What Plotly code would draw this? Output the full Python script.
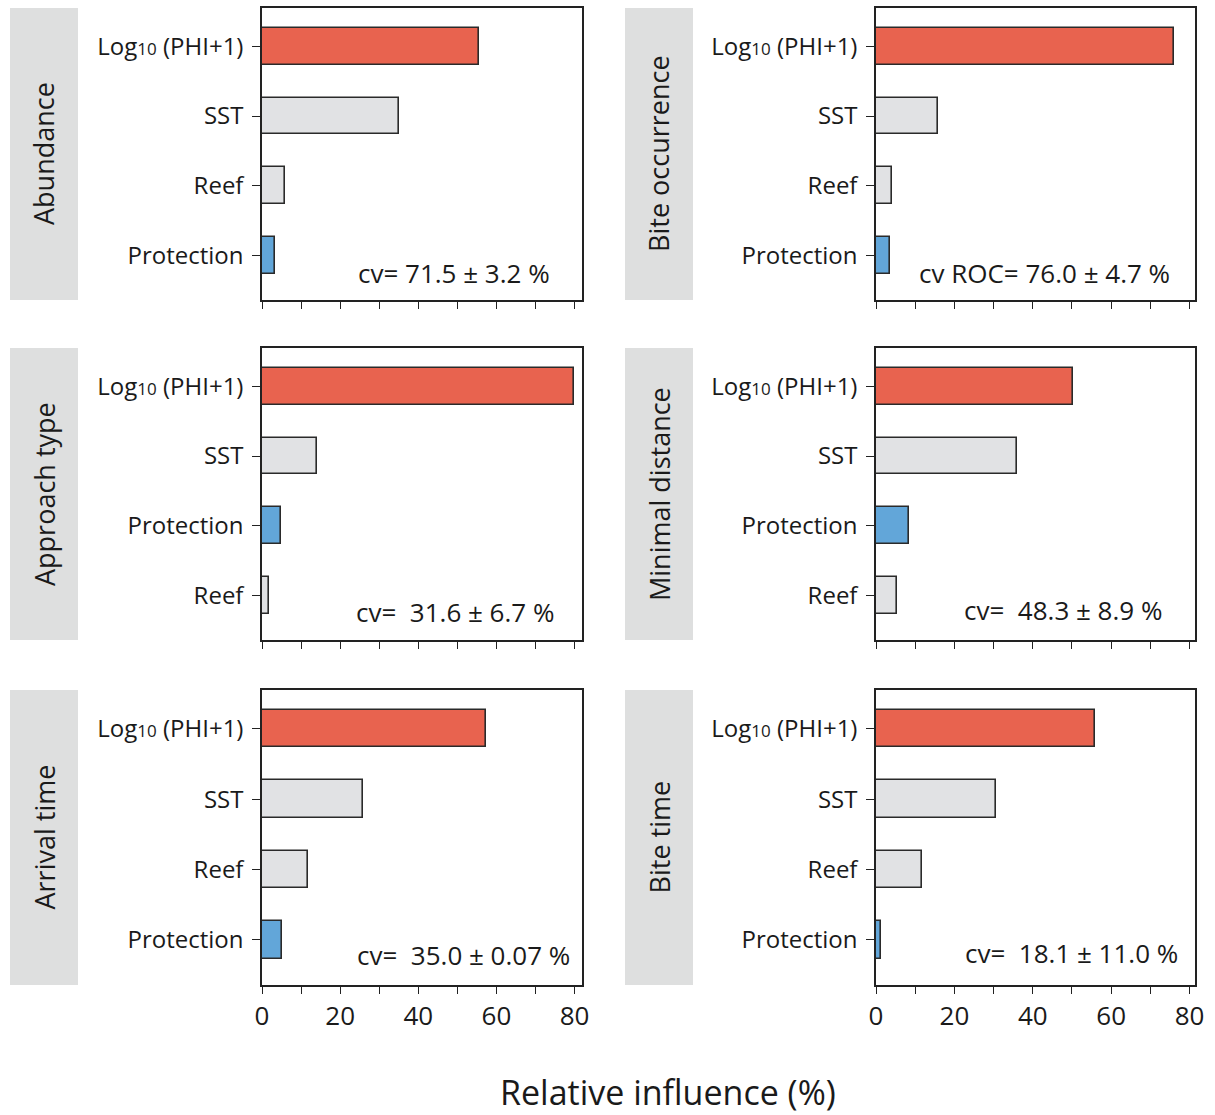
import plotly.graph_objects as go

# ---------------- data ----------------
panel_titles = ["Abundance", "Bite occurrence", "Approach type",
                "Minimal distance", "Arrival time", "Bite time"]

cats_abundance = ["Log10 (PHI+1)", "SST", "Reef", "Protection"]
vals_abundance = [55.5, 35.1, 5.9, 3.3]

cats_bite_occ = ["Log10 (PHI+1)", "SST", "Reef", "Protection"]
vals_bite_occ = [76.0, 15.8, 4.2, 3.5]

cats_approach = ["Log10 (PHI+1)", "SST", "Protection", "Reef"]
vals_approach = [79.8, 14.2, 4.8, 1.7]

cats_min_dist = ["Log10 (PHI+1)", "SST", "Protection", "Reef"]
vals_min_dist = [50.2, 35.9, 8.4, 5.4]

cats_arrival = ["Log10 (PHI+1)", "SST", "Reef", "Protection"]
vals_arrival = [57.3, 25.8, 11.7, 5.1]

cats_bite_time = ["Log10 (PHI+1)", "SST", "Reef", "Protection"]
vals_bite_time = [55.8, 30.6, 11.8, 1.4]

cv_texts = ["cv= 71.5 ± 3.2 %", "cv ROC= 76.0 ± 4.7 %",
            "cv=\u00a0 31.6 ± 6.7 %", "cv=\u00a0 48.3 ± 8.9 %",
            "cv=\u00a0 35.0 ± 0.07 %", "cv=\u00a0 18.1 ± 11.0 %"]

x_tickvals = [0, 10, 20, 30, 40, 50, 60, 70, 80]
x_ticktext = ["0", "", "20", "", "40", "", "60", "", "80"]

x_title = "Relative influence (%)"

# ---------------- styling ----------------
W, H = 1215, 1115
FONT = "Open Sans"
INK = "#1a1a1a"
COL = {"Log10 (PHI+1)": "#E8634F", "SST": "#E1E2E4",
       "Reef": "#E1E2E4", "Protection": "#62A6D9"}

def px_x(x):
    return x / W

def px_y(y):
    return 1 - y / H

col_x = [(262, 582), (876, 1195)]
row_y = [(8, 300), (348, 640), (690, 985)]
strip_x = [(10, 78), (625, 693)]
x_max = [81.9, 81.4]
cv_right = [552, 1172, 556, 1164, 572, 1180]
cv_y = [273, 273, 612, 610, 955, 953]

panels = [(cats_abundance, vals_abundance), (cats_bite_occ, vals_bite_occ),
          (cats_approach, vals_approach), (cats_min_dist, vals_min_dist),
          (cats_arrival, vals_arrival), (cats_bite_time, vals_bite_time)]

def label_html(c):
    if c.startswith("Log10"):
        return "Log<span style='font-size:17px'>10</span> (PHI+1)"
    return c

fig = go.Figure()
shapes = []
annotations = []

for i, (cats, vals) in enumerate(panels):
    r, c = divmod(i, 2)
    n = i + 1
    xa = "x" if n == 1 else f"x{n}"
    ya = "y" if n == 1 else f"y{n}"
    fig.add_trace(go.Bar(
        x=vals, y=list(range(len(cats))), orientation="h",
        marker=dict(color=[COL[k] for k in cats],
                    line=dict(color="#2a2a2a", width=1.6)),
        width=0.53, xaxis=xa, yaxis=ya, showlegend=False,
        hoverinfo="x"))
    xkey = "xaxis" if n == 1 else f"xaxis{n}"
    ykey = "yaxis" if n == 1 else f"yaxis{n}"
    x0, x1 = col_x[c]
    y0, y1 = row_y[r]
    fig.layout[xkey] = dict(
        domain=[px_x(x0), px_x(x1)], anchor=ya, range=[0, x_max[c]],
        showline=True, linecolor="#222", linewidth=1.5, mirror=True,
        ticks="outside", ticklen=7, tickwidth=1.3, tickcolor="#222",
        tickvals=x_tickvals, ticktext=x_ticktext, automargin=False,
        showticklabels=(r == 2), showgrid=False, zeroline=False,
        tickfont=dict(family=FONT, size=26, color=INK),
        fixedrange=True)
    fig.layout[ykey] = dict(
        domain=[px_y(y1), px_y(y0)], anchor=xa, range=[3.64, -0.55],
        showline=True, linecolor="#222", linewidth=1.5, mirror=True,
        ticks="outside", ticklen=8, tickwidth=1.3, tickcolor="#222",
        tickvals=list(range(len(cats))), ticktext=[label_html(k) for k in cats],
        showgrid=False, zeroline=False, ticklabelstandoff=4, automargin=False,
        tickfont=dict(family=FONT, size=24, color=INK),
        fixedrange=True)
    # gray strip
    sx0, sx1 = strip_x[c]
    shapes.append(dict(type="rect", xref="paper", yref="paper",
                       x0=px_x(sx0), x1=px_x(sx1), y0=px_y(y1), y1=px_y(y0),
                       fillcolor="#DEDFDF", line=dict(width=0), layer="below"))
    annotations.append(dict(
        text=panel_titles[i], xref="paper", yref="paper",
        x=px_x((sx0 + sx1) / 2), y=px_y((y0 + y1) / 2),
        showarrow=False, textangle=-90, xanchor="center", yanchor="middle",
        font=dict(family=FONT, size=27, color=INK)))
    annotations.append(dict(
        text=cv_texts[i], xref="paper", yref="paper",
        x=px_x(cv_right[i]), y=px_y(cv_y[i]),
        showarrow=False, xanchor="right", yanchor="middle",
        font=dict(family=FONT, size=26, color=INK)))

annotations.append(dict(
    text=x_title, xref="paper", yref="paper",
    x=px_x(668), y=px_y(1092), showarrow=False,
    xanchor="center", yanchor="middle",
    font=dict(family=FONT, size=34, color=INK)))

fig.update_layout(
    width=W, height=H, margin=dict(l=0, r=0, t=0, b=0, pad=0),
    autosize=False,
    paper_bgcolor="white", plot_bgcolor="white",
    shapes=shapes, annotations=annotations, bargap=0)

fig.write_html("out.html", config={"displayModeBar": False},
               post_script="document.body.style.margin='0px';document.body.style.overflow='hidden';")
